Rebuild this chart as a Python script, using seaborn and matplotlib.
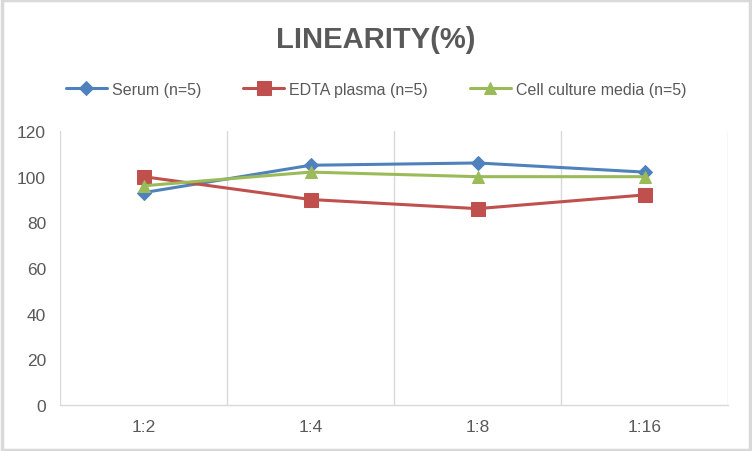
import numpy as np
import pandas as pd
import matplotlib
matplotlib.use("Agg")
import matplotlib.pyplot as plt
import seaborn as sns

dilutions = ["1:2", "1:4", "1:8", "1:16"]
serum = [93, 105, 106, 102]
edta_plasma = [100, 90, 86, 92]
cell_culture = [96, 102, 100, 100]

series_names = ["Serum (n=5)", "EDTA plasma (n=5)", "Cell culture media (n=5)"]
colors = ["#4f81bd", "#c0504d", "#9bbb59"]
markers = ["D", "s", "^"]
marker_sizes = [7, 10, 9]

sns.set_theme(style="white")
plt.rcParams["font.family"] = ["Liberation Sans", "DejaVu Sans"]

text_color = "#595959"
grid_color = "#d9d9d9"

fig = plt.figure(figsize=(7.52, 4.52), dpi=100)
ax = fig.add_axes([60 / 752, 1 - 406 / 452, (728 - 60) / 752, (406 - 132) / 452])

for name, vals, c, m, ms in zip(series_names, [serum, edta_plasma, cell_culture],
                                colors, markers, marker_sizes):
    sns.lineplot(x=dilutions, y=vals, ax=ax, color=c, marker=m, markersize=ms,
                 markeredgecolor=c, linewidth=2.2, label=name, sort=False)

ax.set_xlim(-0.5, len(dilutions) - 0.5)
ax.set_ylim(0, 120)
ax.set_yticks(np.arange(0, 121, 20))
ax.set_xticks(range(len(dilutions)))
ax.set_xticklabels(dilutions)

# vertical gridlines at category boundaries
for b in np.arange(-0.5, len(dilutions), 1.0):
    ax.axvline(b, color=grid_color, linewidth=1, zorder=0)

for s in ["top", "right", "left"]:
    ax.spines[s].set_visible(False)
ax.spines["bottom"].set_color(grid_color)
ax.spines["bottom"].set_linewidth(1)

ax.tick_params(axis="both", length=0, labelsize=12.5, colors=text_color, pad=10)
ax.set_xlabel("")
ax.set_ylabel("")

ax.legend(loc="center", bbox_to_anchor=(0.5, 1 - 90 / 452), bbox_transform=fig.transFigure,
          ncol=3, frameon=False, fontsize=11.5, labelcolor=text_color,
          handlelength=2.6, columnspacing=2.6, handletextpad=0.3)

fig.text(0.5, 1 - 40 / 452, "LINEARITY(%)", ha="center", va="center",
         fontsize=21, fontweight="bold", color=text_color)

# outer border like the reference
fig.patches.append(plt.Rectangle((0.002, 0.003), 0.995, 0.994, transform=fig.transFigure,
                                 fill=False, edgecolor="#d9d9d9", linewidth=2.5))

fig.savefig("out.png", dpi=100)
plt.close(fig)
